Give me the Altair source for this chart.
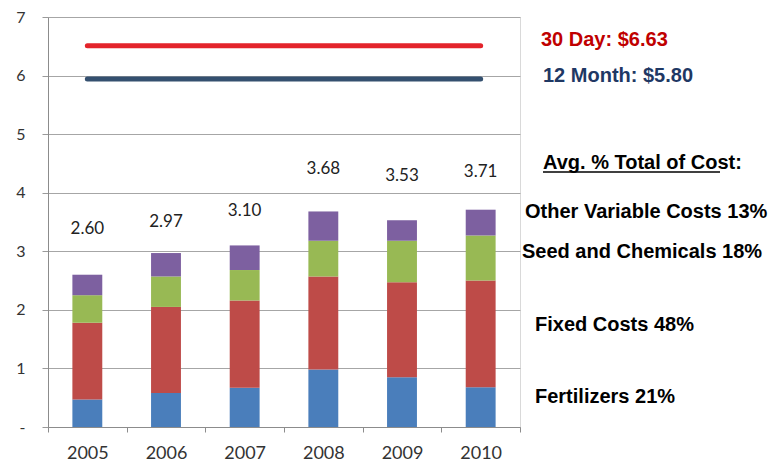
import altair as alt
import pandas as pd

# ---- data ----
years = ["2005", "2006", "2007", "2008", "2009", "2010"]
fertilizers = [0.47, 0.58, 0.67, 0.98, 0.85, 0.68]
fixed_costs = [1.31, 1.47, 1.49, 1.59, 1.62, 1.82]
seed_chem = [0.47, 0.52, 0.52, 0.61, 0.71, 0.77]
other_var = [0.35, 0.40, 0.42, 0.50, 0.35, 0.44]
totals = ["2.60", "2.97", "3.10", "3.68", "3.53", "3.71"]
label_y = [3.38, 3.50, 3.69, 4.40, 4.28, 4.36]   # where the total labels sit
series = ["Fertilizers", "Fixed Costs", "Seed and Chemicals", "Other Variable Costs"]
colors = ["#4a7ebb", "#be4b48", "#98b954", "#7d60a0"]
price_30day = 6.51
price_12mo = 5.94
annotations = [
    "30 Day: $6.63",
    "12 Month: $5.80",
    "Avg. % Total of Cost:",
    "Other Variable Costs 13%",
    "Seed and Chemicals 18%",
    "Fixed Costs 48%",
    "Fertilizers 21%",
]

rows = []
for si, (name, vals) in enumerate(zip(series, [fertilizers, fixed_costs, seed_chem, other_var])):
    for y, v in zip(years, vals):
        rows.append({"year": y, "series": name, "value": v, "k": si})
bars_df = pd.DataFrame(rows)
tot_df = pd.DataFrame({"year": years, "label": totals, "pos": label_y})
red_df = pd.DataFrame({"year": [years[0], years[-1]], "v": [price_30day] * 2})
blue_df = pd.DataFrame({"year": [years[0], years[-1]], "v": [price_12mo] * 2})

xscale = alt.Scale(domain=years, paddingInner=0, paddingOuter=0)
yscale = alt.Scale(domain=[0, 7], nice=False)

x_enc = alt.X(
    "year:N", scale=xscale, title=None,
    axis=alt.Axis(
        tickBand="extent", labelAngle=0, labelFont="Lato", labelFontSize=18,
        labelColor="#333333", labelPadding=12, tickSize=5, tickColor="#8c8c8c",
        domainColor="#8c8c8c", grid=False,
    ),
)

bars = alt.Chart(bars_df).mark_bar(width=alt.RelativeBandSize(0.38)).encode(
    x=x_enc,
    y=alt.Y(
        "value:Q", stack="zero", scale=yscale, title=None,
        axis=alt.Axis(
            values=[0, 1, 2, 3, 4, 5, 6, 7], format="d",
            labelExpr="datum.value == 0 ? '-' : datum.label",
            labelFont="Lato", labelFontSize=16, labelColor="#333333",
            labelPadding=17, tickSize=6, tickColor="#9a9a9a",
            domainColor="#8c8c8c", gridColor="#a6a6a6", gridWidth=1,
        ),
    ),
    color=alt.Color("series:N", scale=alt.Scale(domain=series, range=colors), legend=None),
    order=alt.Order("k:Q", sort="ascending"),
)

labels = alt.Chart(tot_df).mark_text(
    font="Lato", fontSize=17, color="#222222", baseline="middle"
).encode(
    x=alt.X("year:N", scale=xscale),
    y=alt.Y("pos:Q", scale=yscale),
    text="label:N",
)

red_line = alt.Chart(red_df).mark_line(color="#e3242b", strokeWidth=5, strokeCap="round").encode(
    x=alt.X("year:N", scale=xscale), y=alt.Y("v:Q", scale=yscale)
)
blue_line = alt.Chart(blue_df).mark_line(color="#34506f", strokeWidth=5, strokeCap="round").encode(
    x=alt.X("year:N", scale=xscale), y=alt.Y("v:Q", scale=yscale)
)

ann_layout = [
    (493, 23, "#c00000"),
    (495, 59, "#1f3864"),
    (495, 146, "#000000"),
    (477, 195, "#000000"),
    (474, 235, "#000000"),
    (487, 308, "#000000"),
    (487, 380, "#000000"),
]
ann_layers = []
for txt, (px, py, col) in zip(annotations, ann_layout):
    ann_layers.append(
        alt.Chart(pd.DataFrame({"t": [txt]})).mark_text(
            font="Liberation Sans", fontWeight="bold", fontSize=20, color=col,
            align="left", baseline="middle",
        ).encode(x=alt.value(px), y=alt.value(py), text="t:N")
    )

underline = alt.Chart(pd.DataFrame({"t": [annotations[2]]})).mark_rule(
    color="#000000", strokeWidth=1.6
).encode(x=alt.value(495), x2=alt.value(672), y=alt.value(155))

chart = alt.layer(bars, labels, red_line, blue_line, underline, *ann_layers).properties(
    width=472,
    height=410,
    autosize=alt.AutoSizeParams(type="none"),
    padding={"left": 40, "top": 9, "right": 248, "bottom": 35},
    background="white",
).configure_view(stroke="#d9d9d9")

chart.save("out.html", embed_options={"renderer": "svg", "actions": False})
